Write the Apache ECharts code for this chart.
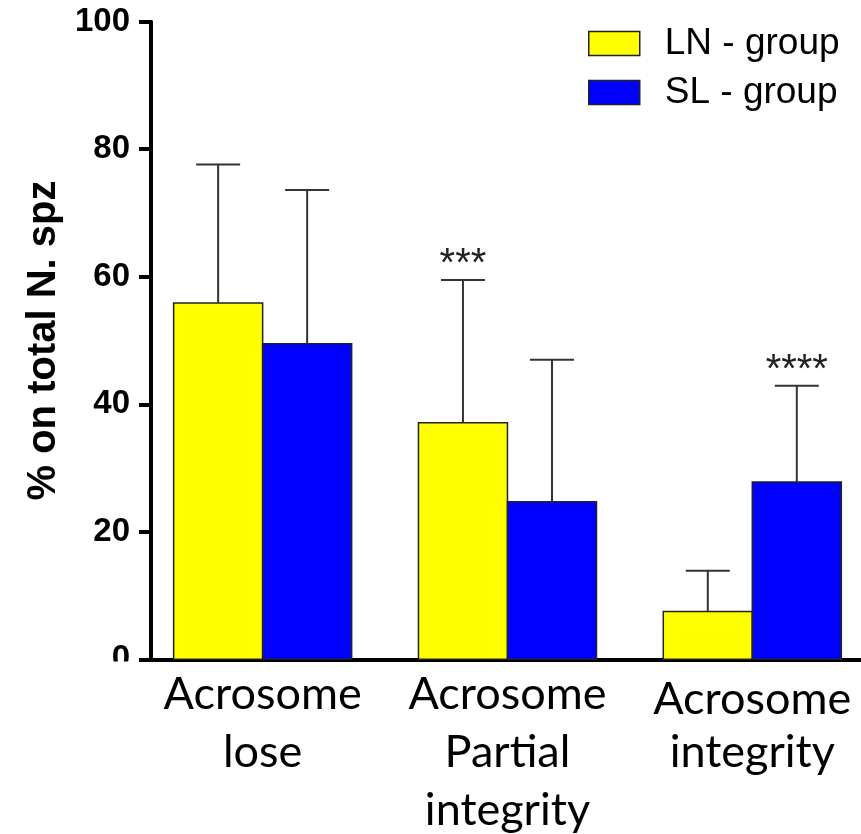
<!DOCTYPE html>
<html><head><meta charset="utf-8">
<script src="https://cdn.jsdelivr.net/npm/echarts@6/dist/echarts.min.js"></script>
<style>html,body{margin:0;padding:0;background:#fff}#c{width:861px;height:834px}</style>
</head><body><div id="c"></div>
<script>
// ---- data ----
const categories = ['Acrosome\nlose', 'Acrosome\nPartial\nintegrity', 'Acrosome\nintegrity'];
const seriesNames = ['LN - group', 'SL - group'];
const lnMean = [55.9, 37.1, 7.5];
const lnErrTop = [77.6, 59.5, 13.9];
const slMean = [49.5, 24.7, 27.8];
const slErrTop = [73.6, 47.0, 42.9];
const lnSig = ['', '***', ''];
const slSig = ['', '', '****'];
const yTicks = [0, 20, 40, 60, 80, 100];

// ---- styles ----
const colors = ['#ffff00', '#0000ff'];
const BAR_FRAC = 0.3636;

function makeRender(side, sigs) {
  return function (params, api) {
    const c = api.value(0), v = api.value(1), e = api.value(2);
    const unit = api.size([1, 0])[0];
    const bw = unit * BAR_FRAC;
    const p0 = api.coord([c, 0]);
    const p1 = api.coord([c, v]);
    const pe = api.coord([c, e]);
    const x0 = p0[0] + (side === 0 ? -bw : 0);
    const cx = x0 + bw / 2;
    const capHalf = 22;
    const children = [
      { type: 'rect', shape: { x: x0, y: p1[1], width: bw, height: p0[1] - p1[1] },
        style: { fill: colors[side], stroke: '#222', lineWidth: 1.5 } },
      { type: 'line', shape: { x1: cx, y1: p1[1], x2: cx, y2: pe[1] },
        style: { stroke: '#333', lineWidth: 2 } },
      { type: 'line', shape: { x1: cx - capHalf, y1: pe[1], x2: cx + capHalf, y2: pe[1] },
        style: { stroke: '#333', lineWidth: 2 } }
    ];
    const s = sigs[params.dataIndex];
    if (s) {
      children.push({ type: 'text', x: cx, y: pe[1] - 15,
        style: { text: s, fontSize: 40, fontFamily: 'Liberation Sans, Arial, sans-serif',
          fill: '#222', align: 'center', verticalAlign: 'middle' } });
    }
    return { type: 'group', children: children };
  };
}

const lnData = lnMean.map((v, i) => [i, v, lnErrTop[i]]);
const slData = slMean.map((v, i) => [i, v, slErrTop[i]]);

const chart = echarts.init(document.getElementById('c'), null, { renderer: 'canvas' });
chart.setOption({
  backgroundColor: '#fff',
  animation: false,
  grid: { left: 151, right: 0, top: 21.7, bottom: 174.7, containLabel: false },
  legend: {
    orient: 'vertical', left: 583, top: 20,
    itemWidth: 51, itemHeight: 24, itemGap: 12,
    icon: 'rect',
    data: seriesNames,
    itemStyle: { borderColor: '#222', borderWidth: 1.5 },
    textStyle: { fontSize: 37, fontFamily: 'Liberation Sans, Arial, sans-serif', color: '#000', padding: [0, 0, 0, 20] }
  },
  xAxis: {
    type: 'value', min: -0.456, max: 2.444,
    splitLine: { show: false },
    axisLine: { show: true, onZero: false, lineStyle: { color: '#000', width: 4 } },
    axisTick: { show: false },
    axisLabel: {
      customValues: [0, 1, 2],
      margin: 6,
      formatter: function (v) {
        const idx = Math.round(v);
        const lines = categories[idx].split('\n');
        return lines.map((l, k) => '{' + (idx === 2 && k === 0 ? 'c' : 'a') + '|' + l + '}').join('\n');
      },
      rich: {
        a: { fontFamily: 'Lato, sans-serif', fontSize: 45, lineHeight: 58, color: '#000' },
        c: { fontFamily: 'Lato, sans-serif', fontSize: 45, lineHeight: 58, color: '#000', padding: [10, 0, 0, 0] }
      }
    }
  },
  yAxis: {
    type: 'value', min: 0, max: 100, interval: 20,
    name: '% on total N. spz', nameLocation: 'middle', nameGap: 84,
    nameTextStyle: { fontSize: 40, fontWeight: 'bold', fontFamily: 'Liberation Sans, Arial, sans-serif', color: '#000' },
    splitLine: { show: false },
    axisLine: { show: true, onZero: false, lineStyle: { color: '#000', width: 4 } },
    axisTick: { show: true, length: 12, lineStyle: { color: '#000', width: 4 } },
    axisLabel: {
      margin: 21, fontSize: 33, fontWeight: 'bold', fontFamily: 'Liberation Sans, Arial, sans-serif', color: '#000',
      formatter: v => (yTicks.indexOf(v) >= 0 ? String(v) : '')
    }
  },
  series: [
    { name: seriesNames[0], type: 'custom', renderItem: makeRender(0, lnSig), data: lnData,
      encode: { x: 0, y: [1, 2] }, itemStyle: { color: colors[0], borderColor: '#222', borderWidth: 1.5 } },
    { name: seriesNames[1], type: 'custom', renderItem: makeRender(1, slSig), data: slData,
      encode: { x: 0, y: [1, 2] }, itemStyle: { color: colors[1], borderColor: '#222', borderWidth: 1.5 } }
  ],
  graphic: [
    { type: 'rect', z: 100, left: 95, top: 661.5, shape: { width: 40, height: 22 }, style: { fill: '#fff' } }
  ]
});
</script>
</body></html>
